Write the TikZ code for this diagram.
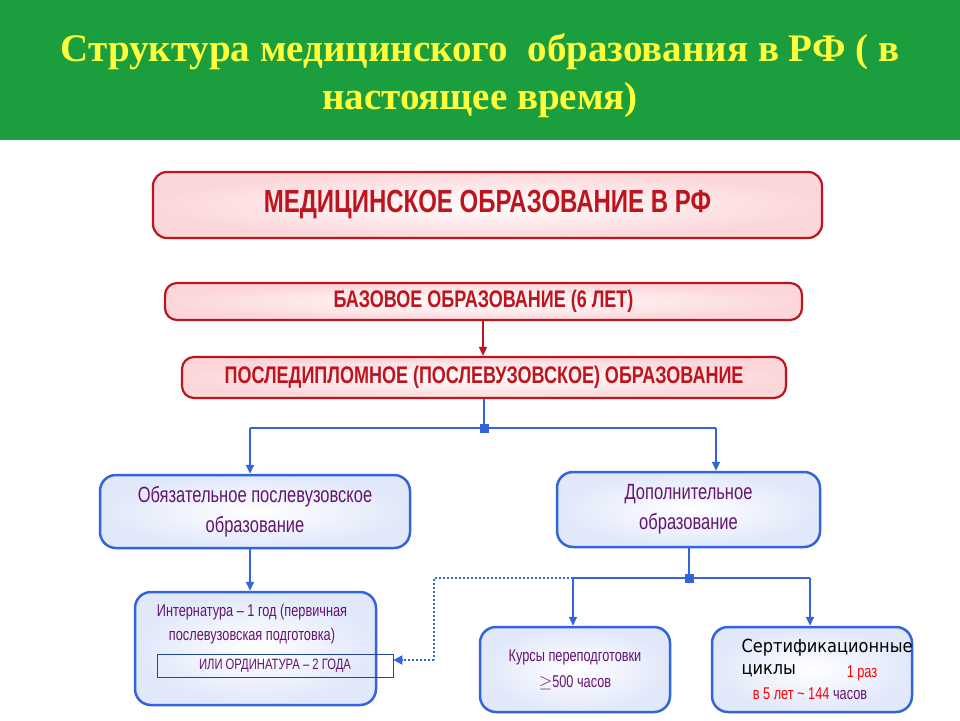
\documentclass[tikz,border=0pt]{standalone}
\usepackage{fontspec}
\setmainfont{Liberation Serif}
\newfontfamily\cond[FakeStretch=0.75]{Liberation Sans}
\newfontfamily\certf[FakeStretch=0.9]{DejaVu Sans}
\usetikzlibrary{arrows.meta}
\definecolor{grn}{RGB}{26,158,62}
\definecolor{ttl}{RGB}{255,255,60}
\definecolor{dred}{RGB}{190,20,30}
\definecolor{pnk}{RGB}{252,215,218}
\definecolor{blu}{RGB}{50,100,220}
\definecolor{pur}{RGB}{100,20,110}
\tikzset{
 redbox/.style={draw=dred,line width=2.2pt,rounded corners=14pt,inner color=white,outer color=pnk,text=dred,font=\cond\bfseries,align=center},
 bluebox/.style={draw=blu,line width=2.5pt,rounded corners=16pt,inner color=white,outer color=blu!15,text=pur,font=\cond\small,align=center},
 barr/.style={draw=blu,line width=1.8pt,-{Triangle[width=8pt,length=9pt]}},
 bln/.style={draw=blu,line width=1.8pt},
 sq/.style={fill=blu,minimum size=9pt,inner sep=0pt}
}
\begin{document}
\begin{tikzpicture}[x=1pt,y=-1pt]
\useasboundingbox (0,0) rectangle (960,720);
\fill[white] (0,0) rectangle (960,720);
\fill[grn] (0,0) rectangle (960,140);
\node[text=ttl,font=\fontsize{39}{48}\selectfont\bfseries,align=center] (title) at (480,76) {Структура медицинского\ \ образования в РФ ( в\\настоящее время)};
\node[redbox,minimum width=669pt,minimum height=66pt,font=\cond\bfseries\fontsize{32}{36}\selectfont] (med) at (487.5,205) {МЕДИЦИНСКОЕ ОБРАЗОВАНИЕ В РФ};
\node[redbox,minimum width=637pt,minimum height=37pt,rounded corners=12pt,font=\cond\bfseries\fontsize{24}{28}\selectfont] (base) at (483.5,301.5) {БАЗОВОЕ ОБРАЗОВАНИЕ (6 ЛЕТ)};
\node[redbox,minimum width=604pt,minimum height=41pt,rounded corners=12pt,font=\cond\bfseries\fontsize{24}{28}\selectfont] (post) at (484,377.5) {ПОСЛЕДИПЛОМНОЕ (ПОСЛЕВУЗОВСКОЕ) ОБРАЗОВАНИЕ};
\draw[dred,line width=1.5pt,-{Triangle[width=8pt,length=9pt]}] (base.south -| 483,0) -- (post.north -| 483,0);
\node[bluebox,minimum width=310pt,minimum height=73pt,font=\cond\fontsize{22}{30}\selectfont] (obl) at (255,511.5) {Обязательное послевузовское\\образование};
\node[bluebox,minimum width=263pt,minimum height=75pt,font=\cond\fontsize{22}{30}\selectfont] (dop) at (688.5,509.5) {Дополнительное\\образование};
\coordinate (j1) at (484,428);
\draw[bln] (post.south -| j1) -- (j1);
\draw[bln] (250,428) -- (716,428);
\draw[barr] (250,428) -- (obl.north -| 250,0);
\draw[barr] (716,428) -- (dop.north -| 716,0);
\node[sq] at (j1) {};
\node[bluebox,minimum width=241pt,minimum height=113pt] (int) at (255.5,648.5) {};
\node[text=pur,font=\cond\fontsize{17}{24}\selectfont,align=center] (intt) at (252,624) {Интернатура – 1 год (первичная\\послевузовская подготовка)};
\node[draw=blu!70!black,line width=0.8pt,minimum width=236pt,minimum height=23pt,inner sep=0pt,text=pur,font=\cond\fontsize{15}{18}\selectfont] (ord) at (275,665.5) {ИЛИ ОРДИНАТУРА – 2 ГОДА};
\draw[barr] (250,548) -- (int.north -| 250,0);
\node[bluebox,minimum width=190pt,minimum height=85pt,font=\cond\fontsize{17}{26}\selectfont] (kur) at (575,669.5) {Курсы переподготовки\\$\geq$500 часов};
\node[bluebox,minimum width=200pt,minimum height=85pt] (cert) at (812,669.5) {};
\node[anchor=west,text=black,font=\certf\fontsize{18}{22}\selectfont,align=left] (certt) at (738,658) {Сертификационные\\циклы};
\node[text=red,font=\cond\fontsize{17}{18}\selectfont] (raz) at (862,673) {1 раз};
\node[text=red,font=\cond\fontsize{17}{18}\selectfont] (let) at (810,694) {в 5 лет \textasciitilde{} 144 \textcolor{pur}{часов}};
\coordinate (j2) at (689,578);
\draw[bln] (dop.south -| j2) -- (j2);
\draw[bln] (573,578) -- (810,578);
\draw[barr] (573,578) -- (kur.north -| 573,0);
\draw[barr] (810,578) -- (cert.north -| 810,0);
\draw[blu,line width=2pt,dotted] (689,578) -- (434,578) -- (434,660);
\draw[blu,line width=2pt,dotted,-{Triangle[width=9pt,length=9pt]}] (434,660) -- (ord.east |- 0,660);
\node[sq] at (j2) {};
\end{tikzpicture}
\end{document}
